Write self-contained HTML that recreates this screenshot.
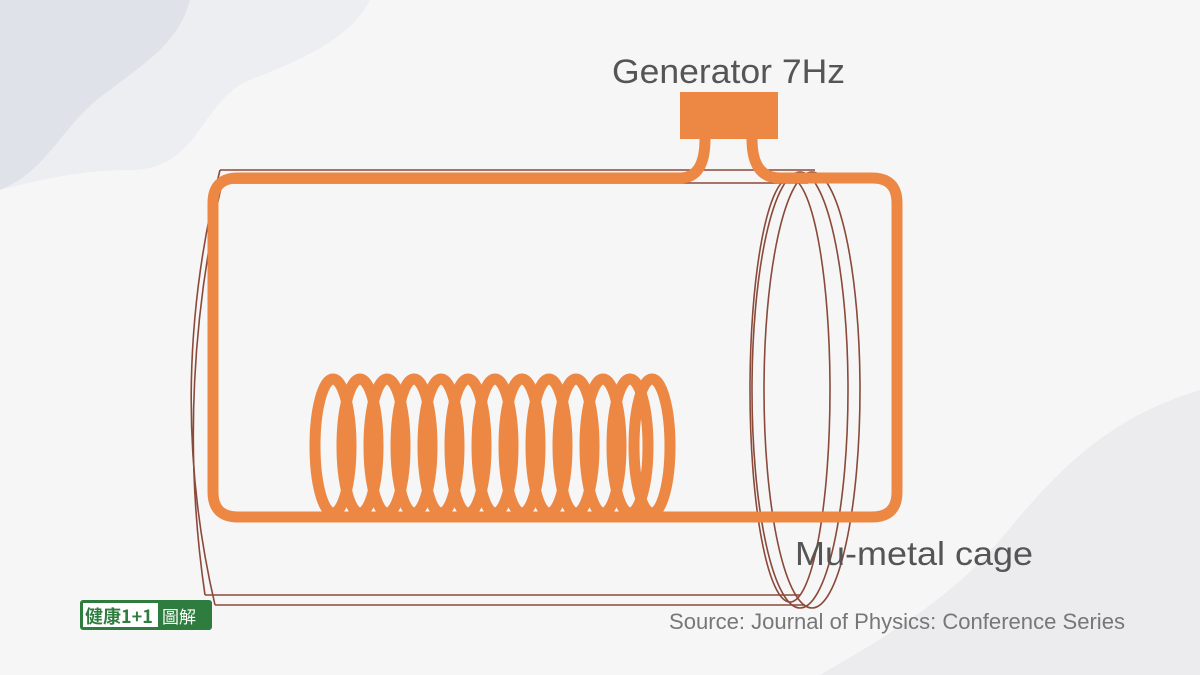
<!DOCTYPE html>
<html><head><meta charset="utf-8"><style>
html,body{margin:0;padding:0;}
body{width:1200px;height:675px;overflow:hidden;background:#f6f6f6;position:relative;font-family:"Liberation Sans","Noto Sans CJK TC",sans-serif;}
svg{position:absolute;left:0;top:0;}
</style></head><body>
<svg width="1200" height="675" viewBox="0 0 1200 675">
<path d="M0 0 L190 0 C180 40 150 60 110 90 C60 125 50 170 0 190 Z" fill="#dfe3e9"/>
<path d="M190 0 L370 0 C350 40 300 60 250 80 C200 100 200 170 130 170 C80 170 40 180 0 190 L0 190 C50 170 60 125 110 90 C150 60 180 40 190 0Z" fill="#eceef1"/>
<path d="M1200 390 C1100 420 1050 480 1000 540 C950 600 880 640 820 675 L1200 675 Z" fill="#ececef"/>
<g fill="none" stroke="#8a4a3a" stroke-width="1.6">
<path d="M220 170 L815 170"/>
<path d="M222 183 L808 183"/>
<path d="M215 605 L805 605"/>
<path d="M205 595 L800 595"/>
<path d="M220 170 Q165 390 215 605"/>
<path d="M222 183 Q175 390 205 595"/>
<ellipse cx="800" cy="390" rx="48" ry="218"/>
<ellipse cx="812" cy="390" rx="48" ry="218"/>
<ellipse cx="790" cy="390" rx="40" ry="212"/>
</g>
<g fill="none" stroke="#ec8843" stroke-width="11">
<path d="M680 178 L238 178 Q213 178 213 203 L213 492 Q213 517 238 517 L872 517 Q897 517 897 492 L897 203 Q897 178 872 178 L780 178"/>
<path d="M680 178 Q705 178 705 139"/>
<path d="M780 178 Q752 178 752 139"/>
<ellipse cx="333" cy="446" rx="18" ry="67"/>
<ellipse cx="360" cy="446" rx="18" ry="67"/>
<ellipse cx="387" cy="446" rx="18" ry="67"/>
<ellipse cx="414" cy="446" rx="18" ry="67"/>
<ellipse cx="441" cy="446" rx="18" ry="67"/>
<ellipse cx="468" cy="446" rx="18" ry="67"/>
<ellipse cx="495" cy="446" rx="18" ry="67"/>
<ellipse cx="522" cy="446" rx="18" ry="67"/>
<ellipse cx="549" cy="446" rx="18" ry="67"/>
<ellipse cx="576" cy="446" rx="18" ry="67"/>
<ellipse cx="603" cy="446" rx="18" ry="67"/>
<ellipse cx="630" cy="446" rx="18" ry="67"/>
<ellipse cx="652" cy="446" rx="18" ry="67"/>
</g>
<rect x="680" y="92" width="98" height="47" fill="#ec8843"/>
<text x="612" y="83" font-family="Liberation Sans, sans-serif" font-size="34" fill="#555" textLength="233" lengthAdjust="spacingAndGlyphs">Generator 7Hz</text>
<text x="795" y="565" font-family="Liberation Sans, sans-serif" font-size="33" fill="#555" textLength="238" lengthAdjust="spacingAndGlyphs">Mu-metal cage</text>
<text x="669" y="629" font-family="Liberation Sans, sans-serif" font-size="22" fill="#777" textLength="456" lengthAdjust="spacingAndGlyphs">Source: Journal of Physics: Conference Series</text>
<g>
<rect x="80" y="600" width="132" height="30" rx="3" fill="#2e7d3e"/>
<rect x="83" y="603" width="75" height="24" fill="#fff"/>
<text x="85" y="623" font-family="Noto Sans CJK TC, sans-serif" font-size="18" font-weight="bold" fill="#2e7d3e">健康1+1</text>
<text x="162" y="623" font-family="Noto Sans CJK TC, sans-serif" font-size="17" fill="#fff">圖解</text>
</g>
</svg>
</body></html>
